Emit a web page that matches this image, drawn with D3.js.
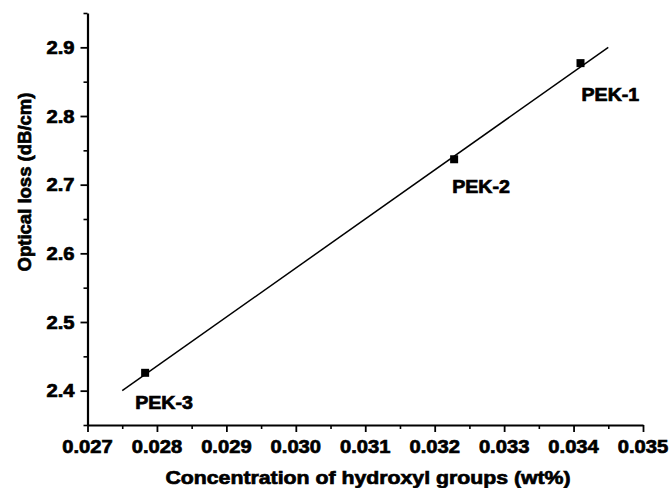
<!DOCTYPE html>
<html>
<head>
<meta charset="utf-8">
<script src="https://cdn.jsdelivr.net/npm/d3@7"></script>
<style>
  body { margin: 0; background: #fff; }
  text.lab {
    font-family: "Liberation Sans", Arial, Helvetica, sans-serif;
    font-weight: bold;
    fill: #000;
    stroke: #000;
    stroke-width: 0.7px;
  }
</style>
</head>
<body>
<svg id="chart"></svg>
<script>
const samples = ["PEK-1", "PEK-2", "PEK-3"];
const hydroxyl = [0.03410, 0.03228, 0.02783];
const opticalLoss = [2.877, 2.737, 2.426];

const fitX = [0.0275, 0.0345];
const fitY = [2.40, 2.90];

const xTicks = [0.027, 0.028, 0.029, 0.030, 0.031, 0.032, 0.033, 0.034, 0.035];
const yTicks = [2.4, 2.5, 2.6, 2.7, 2.8, 2.9];

const WIDTH = 670;
const HEIGHT = 488;
const margin = { left: 87.5, right: 27, top: 13, bottom: 63 };
// the original figure is a bit wider than tall, glyphs look stretched
const STRETCH = 1.12;

// label placement relative to each point, in px
const labelOffsets = [[1, 38], [-2, 34], [-10, 36]];

const svg = d3.select("#chart").attr("width", WIDTH).attr("height", HEIGHT);

const x = d3.scaleLinear()
  .domain([0.027, 0.035])
  .range([margin.left, WIDTH - margin.right]);

const y = d3.scaleLinear()
  .domain([2.35, 2.95])
  .range([HEIGHT - margin.bottom, margin.top]);

const x0 = y.range()[0];
const y0 = x.range()[0];

// minor ticks
const xMinor = d3.range(0.0275, 0.035, 0.001);
const yMinor = d3.range(2.35, 2.95, 0.1);

svg.append("g")
  .attr("transform", `translate(0,${x0})`)
  .call(d3.axisBottom(x).tickValues(xMinor).tickSize(4).tickFormat("").tickSizeOuter(0))
  .call(g => g.select(".domain").remove())
  .selectAll("line").attr("stroke-width", 1.6);

svg.append("g")
  .attr("transform", `translate(${y0},0)`)
  .call(d3.axisLeft(y).tickValues(yMinor).tickSize(4).tickFormat("").tickSizeOuter(0))
  .call(g => g.select(".domain").remove())
  .selectAll("line").attr("stroke-width", 1.6);

const xAxis = svg.append("g")
  .attr("transform", `translate(0,${x0})`)
  .call(d3.axisBottom(x).tickValues(xTicks).tickFormat("").tickSize(7).tickSizeOuter(0));

const yAxis = svg.append("g")
  .attr("transform", `translate(${y0},0)`)
  .call(d3.axisLeft(y).tickValues(yTicks).tickFormat("").tickSize(7).tickSizeOuter(0));

[xAxis, yAxis].forEach(g => {
  g.select(".domain").attr("stroke-width", 2.2);
  g.selectAll(".tick line").attr("stroke-width", 1.8);
});

// tick labels
const fmtX = d3.format(".3f");
const fmtY = d3.format(".1f");

svg.append("g").selectAll("text")
  .data(xTicks)
  .join("text")
  .attr("class", "lab")
  .attr("transform", d => `translate(${x(d)},${x0 + 28}) scale(${STRETCH},1)`)
  .attr("text-anchor", "middle")
  .style("font-size", "18px")
  .text(fmtX);

svg.append("g").selectAll("text")
  .data(yTicks)
  .join("text")
  .attr("class", "lab")
  .attr("transform", d => `translate(${y0 - 13},${y(d) + 6.5}) scale(${STRETCH},1)`)
  .attr("text-anchor", "end")
  .style("font-size", "18px")
  .text(fmtY);

// fitted line
svg.append("line")
  .attr("x1", x(fitX[0])).attr("y1", y(fitY[0]))
  .attr("x2", x(fitX[1])).attr("y2", y(fitY[1]))
  .attr("stroke", "#000")
  .attr("stroke-width", 1.5);

// points
svg.selectAll("rect.pt")
  .data(samples)
  .join("rect")
  .attr("class", "pt")
  .attr("x", (d, i) => x(hydroxyl[i]) - 4)
  .attr("y", (d, i) => y(opticalLoss[i]) - 4)
  .attr("width", 8)
  .attr("height", 8)
  .attr("fill", "#000");

svg.selectAll("text.pek")
  .data(samples)
  .join("text")
  .attr("class", "lab pek")
  .attr("transform", (d, i) =>
    `translate(${x(hydroxyl[i]) + labelOffsets[i][0]},${y(opticalLoss[i]) + labelOffsets[i][1]}) scale(${STRETCH},1)`)
  .style("font-size", "17.5px")
  .text(d => d);

// axis titles
svg.append("text")
  .attr("class", "lab")
  .attr("transform", `translate(368,484) scale(${STRETCH},1)`)
  .attr("text-anchor", "middle")
  .style("font-size", "19px")
  .text("Concentration of hydroxyl groups (wt%)");

svg.append("text")
  .attr("class", "lab")
  .attr("transform", "translate(31,182) rotate(-90)")
  .attr("text-anchor", "middle")
  .style("font-size", "18.5px")
  .text("Optical loss (dB/cm)");
</script>
</body>
</html>
